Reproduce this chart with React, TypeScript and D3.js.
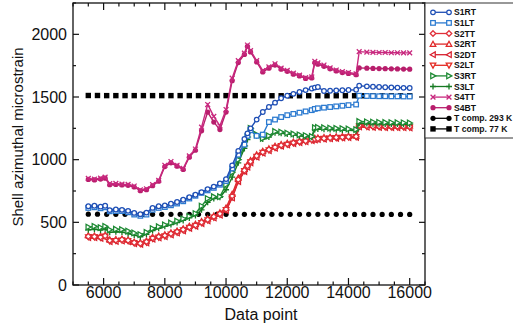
import { useEffect, useRef } from "react"
import * as d3 from "d3"

// data point positions shared by the strain gauge series
const xs = [
  5500, 5700, 5900, 6050, 6200, 6400, 6600, 6800, 7000, 7200,
  7400, 7600, 7800, 8000, 8200, 8400, 8600, 8800, 9000, 9200,
  9400, 9600, 9800, 10000, 10200, 10400, 10600, 10700, 10800, 11000,
  11200, 11400, 11600, 11800, 12000, 12200, 12400, 12600, 12800, 12900,
  13000, 13200, 13400, 13600, 13800, 14000, 14250, 14350, 14600, 14800,
  15000, 15200, 15400, 15600, 15800, 16000,
]

const s1rt = [
  628, 632, 625, 632, 598, 602, 600, 592, 575, 565,
  578, 615, 628, 635, 648, 662, 680, 700, 720, 740,
  765, 785, 810, 845, 955, 1070, 1165, 1210, 1250, 1320,
  1380, 1420, 1455, 1490, 1510, 1525, 1540, 1555, 1568, 1575,
  1580, 1548, 1550, 1552, 1554, 1556, 1558, 1590, 1585, 1582,
  1580, 1578, 1576, 1575, 1573, 1572,
]
const s1lt = [
  615, 620, 612, 620, 588, 590, 590, 580, 562, 552,
  562, 600, 615, 622, 636, 650, 668, 690, 712, 735,
  755, 775, 800, 830, 930, 1040, 1120, 1190, 1235, 1190,
  1200, 1300, 1320, 1340, 1355, 1365, 1375, 1385, 1395, 1405,
  1410, 1415, 1420, 1425, 1430, 1435, 1440, 1510, 1508, 1507,
  1506, 1506, 1505, 1505, 1504, 1504,
]
const s2tt = [
  388, 386, 382, 392, 355, 358, 362, 356, 338, 332,
  345, 375, 385, 395, 410, 425, 442, 462, 478, 500,
  522, 545, 568, 605, 710, 840, 915, 950, 985, 1030,
  1060, 1080, 1100, 1115, 1125, 1135, 1143, 1150, 1160, 1165,
  1168, 1170, 1174, 1177, 1180, 1182, 1185, 1272, 1270, 1268,
  1267, 1266, 1266, 1265, 1265, 1264,
]
const s2rt = [
  395, 392, 390, 398, 362, 365, 368, 362, 345, 340,
  352, 382, 392, 402, 418, 432, 450, 470, 486, 508,
  530, 552, 578, 615, 725, 855, 925, 960, 995, 1040,
  1068, 1088, 1108, 1122, 1132, 1142, 1150, 1158, 1166, 1172,
  1175, 1178, 1181, 1184, 1186, 1188, 1190, 1278, 1276, 1275,
  1274, 1273, 1272, 1272, 1271, 1271,
]
const s2dt = [
  378, 377, 372, 382, 346, 348, 352, 346, 330, 325,
  336, 366, 376, 386, 400, 415, 432, 452, 468, 490,
  512, 535, 558, 595, 695, 825, 905, 940, 975, 1020,
  1052, 1072, 1092, 1108, 1118, 1128, 1136, 1143, 1152, 1158,
  1161, 1164, 1167, 1170, 1173, 1176, 1178, 1262, 1260, 1258,
  1257, 1256, 1256, 1255, 1255, 1254,
]
const s2lt = [
  383, 382, 378, 388, 350, 353, 357, 351, 334, 328,
  340, 370, 380, 390, 405, 420, 437, 457, 473, 495,
  517, 540, 563, 600, 700, 832, 910, 945, 980, 1025,
  1056, 1076, 1096, 1111, 1121, 1131, 1139, 1146, 1156, 1161,
  1164, 1167, 1170, 1173, 1176, 1179, 1181, 1266, 1264, 1262,
  1261, 1260, 1260, 1259, 1259, 1258,
]
const s3rt = [
  462, 468, 458, 468, 440, 445, 442, 430, 415, 402,
  420, 450, 465, 480, 495, 510, 528, 548, 570, 630,
  690, 705, 705, 800, 900, 1000, 1110, 1180, 1250, 1200,
  1170, 1190, 1225, 1220, 1212, 1205, 1198, 1192, 1185, 1255,
  1258, 1255, 1252, 1250, 1248, 1245, 1240, 1305, 1302, 1300,
  1298, 1297, 1296, 1295, 1294, 1293,
]
const s3lt = [
  440, 445, 438, 448, 420, 425, 422, 410, 398, 385,
  405, 435, 452, 468, 482, 498, 515, 535, 555, 600,
  660, 690, 700, 760, 860, 975, 1090, 1160, 1235, 1190,
  1165, 1180, 1215, 1210, 1205, 1198, 1190, 1185, 1178, 1240,
  1245, 1242, 1240, 1238, 1236, 1234, 1230, 1290, 1288, 1287,
  1286, 1285, 1284, 1284, 1283, 1283,
]
const s4tt = [
  850, 845, 852, 860, 808, 810, 805, 802, 790, 760,
  768, 800, 835, 955, 985, 955, 930, 1030, 1085, 1260,
  1440, 1345, 1270, 1400, 1650, 1790, 1850, 1915, 1870, 1790,
  1710, 1740, 1765, 1730, 1712, 1690, 1675, 1655, 1660, 1785,
  1772, 1755, 1732, 1715, 1702, 1695, 1685, 1862, 1858, 1856,
  1855, 1855, 1853, 1853, 1852, 1852,
]
const s4bt = [
  842, 838, 845, 852, 800, 802, 798, 795, 782, 752,
  760, 792, 828, 945, 975, 948, 922, 1020, 1075, 1230,
  1380, 1300, 1240, 1380, 1630, 1775, 1840, 1905, 1860, 1780,
  1700, 1730, 1755, 1722, 1705, 1682, 1668, 1648, 1652, 1775,
  1762, 1745, 1725, 1708, 1695, 1688, 1678, 1732, 1730, 1728,
  1727, 1726, 1725, 1724, 1723, 1722,
]

// temperature compensation gauges
const tCompXs = [
  5500, 5800, 6100, 6400, 6700, 7000, 7300, 7600, 7900, 8200,
  8500, 8800, 9100, 9400, 9700, 10000, 10300, 10600, 10900, 11200,
  11500, 11800, 12100, 12400, 12700, 13000, 13300, 13600, 13900, 14200,
  14500, 14800, 15100, 15400, 15700, 16000,
]
const t293 = [
  565, 565, 564, 564, 564, 564, 564, 564, 564, 564,
  564, 564, 564, 564, 564, 564, 564, 564, 564, 564,
  564, 564, 564, 564, 564, 564, 564, 564, 564, 563,
  563, 563, 563, 563, 563, 563,
]
const t77 = [
  1512, 1512, 1511, 1511, 1511, 1511, 1511, 1511, 1511, 1511,
  1511, 1511, 1511, 1511, 1511, 1511, 1511, 1511, 1511, 1511,
  1510, 1510, 1510, 1510, 1510, 1510, 1510, 1510, 1510, 1510,
  1510, 1510, 1510, 1510, 1510, 1510,
]

const series = [
  { label: "S1RT", x: xs, y: s1rt, color: "#1f4fb5", marker: "circle" },
  { label: "S1LT", x: xs, y: s1lt, color: "#2b7ad0", marker: "square" },
  { label: "S2TT", x: xs, y: s2tt, color: "#e0303a", marker: "diamond" },
  { label: "S2RT", x: xs, y: s2rt, color: "#e02828", marker: "triUp" },
  { label: "S2DT", x: xs, y: s2dt, color: "#d8202e", marker: "triLeft" },
  { label: "S2LT", x: xs, y: s2lt, color: "#e42a22", marker: "triDown" },
  { label: "S3RT", x: xs, y: s3rt, color: "#1e8a34", marker: "triRight" },
  { label: "S3LT", x: xs, y: s3lt, color: "#167a22", marker: "plus" },
  { label: "S4TT", x: xs, y: s4tt, color: "#c8287e", marker: "cross" },
  { label: "S4BT", x: xs, y: s4bt, color: "#b81e6c", marker: "dot" },
  { label: "T comp. 293 K", x: tCompXs, y: t293, color: "#000000", marker: "dot" },
  { label: "T comp. 77 K", x: tCompXs, y: t77, color: "#000000", marker: "fillSquare" },
]

const drawMarker = (g, type, cx, cy, color) => {
  const r = 2.3
  const open = { fill: "white", stroke: color, "stroke-width": 1.25 }
  const apply = (sel, attrs) => {
    Object.entries(attrs).forEach(([k, v]) => sel.attr(k, v))
    return sel
  }
  if (type === "circle") {
    apply(g.append("circle").attr("cx", cx).attr("cy", cy).attr("r", r), open)
  } else if (type === "dot") {
    g.append("circle").attr("cx", cx).attr("cy", cy).attr("r", 2.6).attr("fill", color)
  } else if (type === "square") {
    apply(g.append("rect").attr("x", cx - r).attr("y", cy - r).attr("width", 2 * r).attr("height", 2 * r), open)
  } else if (type === "fillSquare") {
    g.append("rect").attr("x", cx - 2.7).attr("y", cy - 2.7).attr("width", 5.4).attr("height", 5.4).attr("fill", color)
  } else if (type === "plus" || type === "cross") {
    const d =
      type === "plus"
        ? `M${cx - 3},${cy}H${cx + 3}M${cx},${cy - 3}V${cy + 3}`
        : `M${cx - 2.4},${cy - 2.4}L${cx + 2.4},${cy + 2.4}M${cx - 2.4},${cy + 2.4}L${cx + 2.4},${cy - 2.4}`
    g.append("path").attr("d", d).attr("stroke", color).attr("stroke-width", 1.3).attr("fill", "none")
  } else {
    const s = 2.8
    const pts = {
      diamond: [[0, -s], [s, 0], [0, s], [-s, 0]],
      triUp: [[0, -s], [s, s * 0.8], [-s, s * 0.8]],
      triDown: [[0, s], [s, -s * 0.8], [-s, -s * 0.8]],
      triLeft: [[-s, 0], [s * 0.8, -s], [s * 0.8, s]],
      triRight: [[s, 0], [-s * 0.8, -s], [-s * 0.8, s]],
    }[type]
    apply(
      g.append("polygon").attr("points", pts.map(([a, b]) => `${cx + a},${cy + b}`).join(" ")),
      open
    )
  }
}

const StrainChart = () => {
  const svgRef = useRef(null)

  useEffect(() => {
    const svg = d3.select(svgRef.current)
    svg.selectAll("*").remove()

    const left = 73
    const right = 425
    const top = 3
    const bottom = 285
    const font = "'Liberation Sans', Arial, sans-serif"

    const x = d3.scaleLinear().domain([5000, 16500]).range([left, right])
    const y = d3.scaleLinear().domain([0, 2250]).range([bottom, top])

    const line = d3
      .line()
      .x((d) => x(d[0]))
      .y((d) => y(d[1]))

    const plot = svg.append("g")

    // draw lower series first so the magenta and blue ones sit on top
    const order = [10, 11, 5, 4, 3, 2, 7, 6, 1, 0, 9, 8]
    order.forEach((i) => {
      const s = series[i]
      const pts = s.x.map((v, j) => [v, s.y[j]])
      if (s.color !== "#000000") {
        plot
          .append("path")
          .datum(pts)
          .attr("fill", "none")
          .attr("stroke", s.color)
          .attr("stroke-width", 1.4)
          .attr("d", line)
      }
      const mg = plot.append("g")
      pts.forEach((p) => drawMarker(mg, s.marker, x(p[0]), y(p[1]), s.color))
    })

    // axes: inward ticks on all four sides
    const yMajor = [0, 500, 1000, 1500, 2000]
    const yMinor = [250, 750, 1250, 1750, 2250]
    const xMajor = [6000, 8000, 10000, 12000, 14000, 16000]
    const xMinor = [5000, 5500, 6500, 7000, 7500, 8500, 9000, 9500, 10500, 11000, 11500, 12500, 13000, 13500, 14500, 15000, 15500, 16500]

    const tick = (x1, y1, x2, y2) =>
      svg.append("line").attr("x1", x1).attr("y1", y1).attr("x2", x2).attr("y2", y2).attr("stroke", "#111").attr("stroke-width", 1.2)

    yMajor.forEach((v) => {
      tick(left, y(v), left + 6, y(v))
      tick(right, y(v), right - 6, y(v))
    })
    yMinor.forEach((v) => {
      tick(left, y(v), left + 3, y(v))
      tick(right, y(v), right - 3, y(v))
    })
    xMajor.forEach((v) => {
      tick(x(v), bottom, x(v), bottom - 7)
      tick(x(v), top, x(v), top + 7)
    })
    xMinor.forEach((v) => {
      tick(x(v), bottom, x(v), bottom - 3.5)
      tick(x(v), top, x(v), top + 3.5)
    })

    svg
      .append("rect")
      .attr("x", left)
      .attr("y", top)
      .attr("width", right - left)
      .attr("height", bottom - top)
      .attr("fill", "none")
      .attr("stroke", "#111")
      .attr("stroke-width", 1.3)

    yMajor.forEach((v) => {
      svg
        .append("text")
        .attr("x", left - 6)
        .attr("y", y(v))
        .attr("dy", "0.36em")
        .attr("text-anchor", "end")
        .style("font-family", font)
        .style("font-size", "16px")
        .style("fill", "#111")
        .text(v)
    })
    xMajor.forEach((v) => {
      svg
        .append("text")
        .attr("x", x(v))
        .attr("y", 298)
        .attr("text-anchor", "middle")
        .style("font-family", font)
        .style("font-size", "16px")
        .style("fill", "#111")
        .text(v)
    })

    svg
      .append("text")
      .attr("x", 261)
      .attr("y", 320)
      .attr("text-anchor", "middle")
      .style("font-family", font)
      .style("font-size", "16px")
      .style("fill", "#111")
      .text("Data point")

    svg
      .append("text")
      .attr("transform", `translate(23,137) rotate(-90)`)
      .attr("text-anchor", "middle")
      .style("font-family", font)
      .style("font-size", "15px")
      .style("fill", "#111")
      .text("Shell azimuthal microstrain")

    // legend box to the right of the plot
    const legend = svg.append("g")
    legend
      .append("rect")
      .attr("x", right)
      .attr("y", top)
      .attr("width", 120)
      .attr("height", 135)
      .attr("fill", "white")
      .attr("stroke", "#333")
      .attr("stroke-width", 1)

    series.forEach((s, i) => {
      const ly = 12.3 + i * 10.6
      legend
        .append("line")
        .attr("x1", 433)
        .attr("x2", 449)
        .attr("y1", ly)
        .attr("y2", ly)
        .attr("stroke", s.color)
        .attr("stroke-width", 1.3)
      drawMarker(legend, s.marker, 433, ly, s.color)
      drawMarker(legend, s.marker, 449, ly, s.color)
      legend
        .append("text")
        .attr("x", 454)
        .attr("y", ly)
        .attr("dy", "0.35em")
        .style("font-family", font)
        .style("font-size", "8.6px")
        .style("font-weight", "bold")
        .style("fill", "#111")
        .text(s.label)
    })
  }, [])

  return (
    <svg
      ref={svgRef}
      width={513}
      height={333}
      style={{ position: "absolute", left: 0, top: 0, background: "white" }}
    ></svg>
  )
}

export default function App() {
  return <StrainChart />
}
